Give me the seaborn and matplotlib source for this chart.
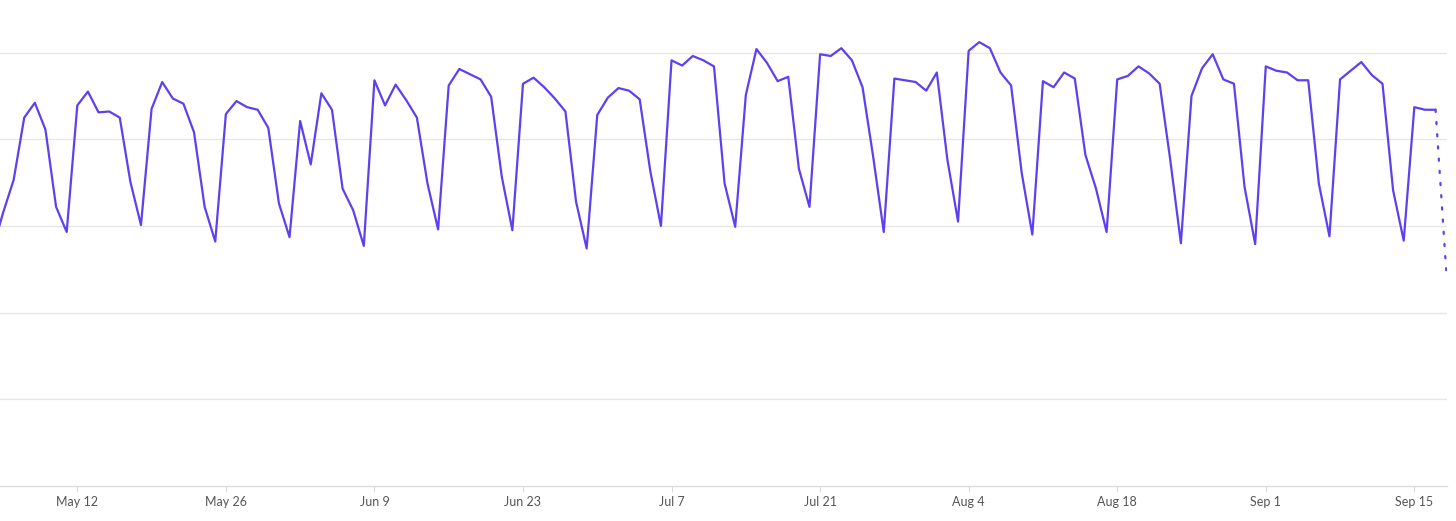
import matplotlib
matplotlib.use("Agg")
import matplotlib.pyplot as plt
import matplotlib.dates as mdates
import seaborn as sns
import pandas as pd

# daily values, May 4 .. Sep 17 (complete days)
start = "2024-05-04"
values = [
    272, 315, 353, 425, 442, 411, 322, 293,
    439, 455, 431, 432, 425, 351, 301,
    435, 466, 447, 441, 408, 322, 282,
    429, 444, 437, 434, 413, 326, 287,
    421, 371, 453, 434, 343, 318, 277,
    468, 439, 463, 445, 425, 349, 296,
    462, 481, 475, 469, 449, 357, 295,
    464, 471, 460, 447, 432, 328, 274,
    428, 448, 459, 456, 446, 363, 300,
    491, 485, 496, 491, 484, 349, 299,
    451, 504, 488, 467, 472, 366, 322,
    498, 496, 505, 491, 460, 380, 293,
    470, 468, 466, 456, 477, 376, 305,
    502, 512, 505, 477, 462, 361, 290,
    467, 460, 477, 470, 382, 343, 293,
    469, 473, 484, 476, 464, 376, 280,
    450, 482, 498, 469, 464, 345, 279,
    484, 479, 477, 468, 468, 349, 288,
    469, 479, 489, 474, 464, 341, 283,
    437, 434, 434,
]
# incomplete current day
partial_day = "2024-09-18"
partial_value = 249

tick_dates = ["2024-05-12", "2024-05-26", "2024-06-09", "2024-06-23", "2024-07-07",
              "2024-07-21", "2024-08-04", "2024-08-18", "2024-09-01", "2024-09-15"]

df = pd.DataFrame({
    "date": pd.date_range(start, periods=len(values), freq="D"),
    "value": values,
})
tail = pd.DataFrame({
    "date": [df["date"].iloc[-1], pd.Timestamp(partial_day)],
    "value": [values[-1], partial_value],
})

sns.set_style("white")
plt.rcParams["font.family"] = ["Lato", "DejaVu Sans"]

fig = plt.figure(figsize=(14.56, 5.21), dpi=100)
ax = fig.add_axes([0, 35 / 521, 1446.7 / 1456, 486 / 521])

line_color = "#5b41f0"
sns.lineplot(data=df, x="date", y="value", ax=ax, color=line_color, linewidth=1.6)
sns.lineplot(data=tail, x="date", y="value", ax=ax, color=line_color,
             linewidth=1.6, linestyle=(0, (1, 4.5)), dash_capstyle="round")

x0 = mdates.date2num(pd.Timestamp("2024-05-12")) - 7.285
x1 = mdates.date2num(pd.Timestamp("2024-09-15")) + 3.05
ax.set_xlim(x0, x1)
ax.set_ylim(0, 560.6)

ax.set_yticks([100, 200, 300, 400, 500])
ax.yaxis.grid(True, color="#e6e6e6", linewidth=1.0)
ax.set_axisbelow(True)
ax.tick_params(axis="y", left=False, labelleft=False)

ticks = pd.to_datetime(tick_dates)
ax.set_xticks(ticks)
ax.set_xticklabels([f"{d:%b} {d.day}" for d in ticks])
ax.tick_params(axis="x", bottom=True, length=4, width=0.8, color="#dcdcdc",
               labelsize=9, labelcolor="#555555", pad=3.5)

for s in ("top", "left", "right"):
    ax.spines[s].set_visible(False)
ax.spines["bottom"].set_color("#dcdcdc")
ax.spines["bottom"].set_linewidth(1.0)

ax.set_xlabel("")
ax.set_ylabel("")
if ax.get_legend():
    ax.get_legend().remove()

fig.savefig("out.png", dpi=100, facecolor="white")
